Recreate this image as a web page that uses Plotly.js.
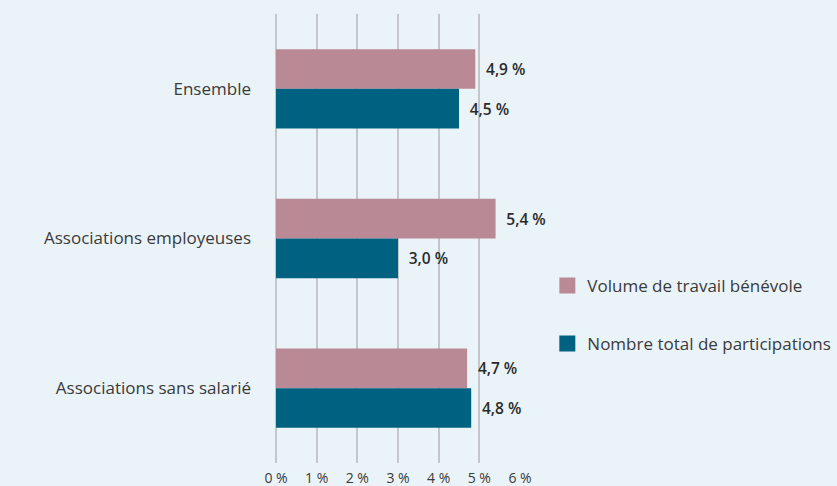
<!DOCTYPE html>
<html><head><meta charset="utf-8">
<script src="https://cdn.plot.ly/plotly-3.0.1.min.js"></script>
<style>html,body{margin:0;padding:0;background:#eaf3f8;}</style>
</head><body><div id="chart" style="width:837px;height:486px;"></div>
<script>
const categories = ["Ensemble", "Associations employeuses", "Associations sans salarié"];
const seriesNames = ["Volume de travail bénévole", "Nombre total de participations"];
const volumeValues = [4.9, 5.4, 4.7];
const participationValues = [4.5, 3.0, 4.8];
const seriesColors = ["#b98a95", "#006180"];
const tickValues = [0, 1, 2, 3, 4, 5, 6];
const tickLabels = ["0 %", "1 %", "2 %", "3 %", "4 %", "5 %", "6 %"];

const fmt = v => v.toFixed(1).replace(".", ",") + " %";
const allSeries = [volumeValues, participationValues];
const font = "'Open Sans', 'Noto Sans', sans-serif";

const traces = [];
allSeries.forEach((vals, i) => {
  traces.push({
    type: "bar", orientation: "h", x: vals, y: categories,
    name: seriesNames[i], marker: {color: seriesColors[i]},
    text: vals.map(v => "\u2002" + fmt(v)), textposition: "outside",
    textfont: {family: font, size: 15.5, color: "#2b2b2b", weight: 600},
    cliponaxis: false, showlegend: false, hoverinfo: "x+y"
  });
});
allSeries.forEach((vals, i) => {
  traces.push({
    type: "scatter", mode: "markers", x: [null], y: [null],
    name: seriesNames[i], legendgroup: "g" + i,
    marker: {symbol: "square", size: 19, color: seriesColors[i], line: {width: 0}},
    showlegend: true
  });
});

const layout = {
  width: 837, height: 486,
  paper_bgcolor: "#eaf3f8", plot_bgcolor: "#eaf3f8",
  margin: {l: 276, r: 317, t: 14, b: 23, autoexpand: false},
  barmode: "group", bargap: 0.47, bargroupgap: 0,
  font: {family: font, color: "#3a3a3a"},
  xaxis: {
    range: [0, 6], tickvals: tickValues, ticktext: tickLabels,
    showgrid: true, gridcolor: "#c3c7c9", gridwidth: 2,
    zeroline: true, zerolinecolor: "#c3c7c9", zerolinewidth: 2,
    showline: false, ticks: "", tickfont: {size: 14, color: "#3a3a3a"},
    ticklabelstandoff: 5, fixedrange: true, automargin: false
  },
  yaxis: {
    autorange: "reversed", type: "category", automargin: false,
    showgrid: false, zeroline: false, showline: false, ticks: "",
    tickfont: {size: 17, color: "#3a3a3a"}, ticklabelstandoff: 24
  },
  showlegend: true,
  legend: {
    x: 1.112, xanchor: "left", y: 0.33, yanchor: "middle",
    bgcolor: "rgba(0,0,0,0)", font: {size: 17, color: "#3a3a3a"},
    tracegroupgap: 33, itemsizing: "trace", traceorder: "grouped"
  }
};
Plotly.newPlot("chart", traces, layout, {displayModeBar: false, staticPlot: true});
</script></body></html>
